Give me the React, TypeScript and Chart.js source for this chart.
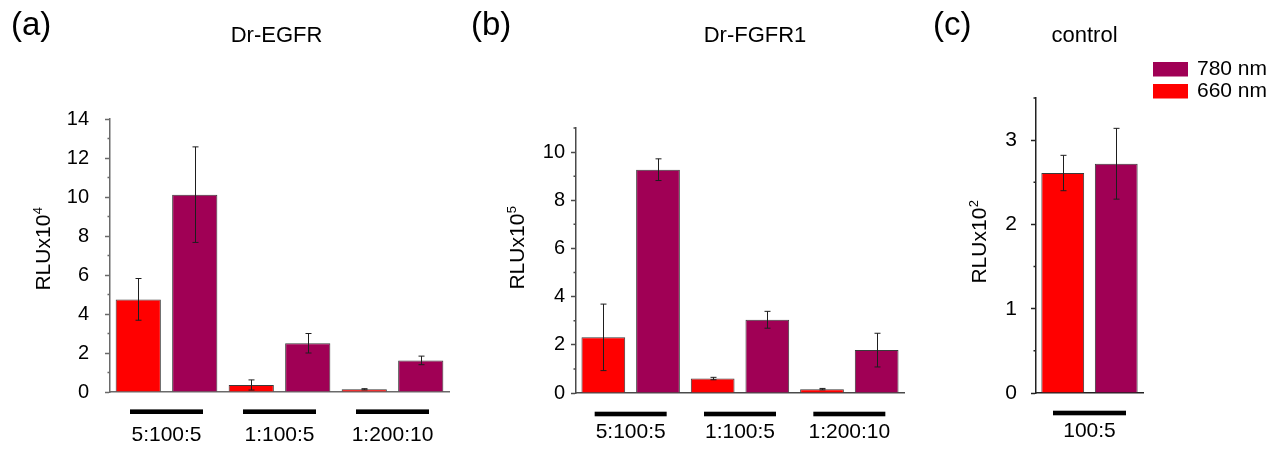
import React, { useEffect, useRef } from 'react';
import { Chart, registerables } from 'chart.js';

Chart.register(...registerables);

const FONT = '"Liberation Sans", Arial, Helvetica, sans-serif';
Chart.defaults.font.family = FONT;

const W = 1283;
const H = 451;

const RED = '#FF0000';
const PURPLE = '#A00055';
const BAR_EDGE = '#3a3a3a';
const ERR_COLOR = '#1e1e1e';

// ---------- data ----------
const seriesLabels = ['660 nm', '780 nm'];

const egfrCategories = ['5:100:5', '1:100:5', '1:200:10'];
const egfr660 = [4.75, 0.36, 0.14];
const egfr660Err = [1.07, 0.26, 0.03];
const egfr780 = [10.12, 2.5, 1.62];
const egfr780Err = [2.45, 0.5, 0.22];
const egfrTicks = [0, 2, 4, 6, 8, 10, 12, 14];
const egfrMinorTicks = [1, 3, 5, 7, 9, 11, 13];

const fgfrCategories = ['5:100:5', '1:100:5', '1:200:10'];
const fgfr660 = [2.31, 0.6, 0.16];
const fgfr660Err = [1.38, 0.05, 0.03];
const fgfr780 = [9.27, 3.04, 1.78];
const fgfr780Err = [0.45, 0.35, 0.7];
const fgfrTicks = [0, 2, 4, 6, 8, 10];
const fgfrMinorTicks = [1, 3, 5, 7, 9, 11];

const ctrlCategories = ['100:5'];
const ctrl660 = [2.61];
const ctrl660Err = [0.21];
const ctrl780 = [2.72];
const ctrl780Err = [0.42];
const ctrlTicks = [0, 1, 2, 3];
const ctrlMinorTicks = [0.5, 1.5, 2.5, 3.5];

// ---------- panel layout / style ----------
type PanelCfg = {
  categories: string[];
  v660: number[];
  e660: number[];
  v780: number[];
  e780: number[];
  max: number;
  ticks: number[];
  minor: number[];
  area: { left: number; top: number; right: number; bottom: number };
  letter: string;
  letterX: number;
  title: string;
  titleX: number;
  yExp: string;
  yTitleX: number;
  yTitleY: number;
  axisColor: string;
  tickFont: number;
  tickPad: number;
  labelPad: number;
  groupLineY: number;
  groupHalf: number;
  legend: boolean;
};

const panels: PanelCfg[] = [
  {
    categories: egfrCategories, v660: egfr660, e660: egfr660Err, v780: egfr780, e780: egfr780Err,
    max: 14, ticks: egfrTicks, minor: egfrMinorTicks,
    area: { left: 110, top: 119, right: 449, bottom: 392 },
    letter: '(a)', letterX: 11, title: 'Dr-EGFR', titleX: 276.5,
    yExp: '4', yTitleX: 50, yTitleY: 249,
    axisColor: '#6a6a6a', tickFont: 20, tickPad: 16, labelPad: 31,
    groupLineY: 411.7, groupHalf: 36.5, legend: false,
  },
  {
    categories: fgfrCategories, v660: fgfr660, e660: fgfr660Err, v780: fgfr780, e780: fgfr780Err,
    max: 11, ticks: fgfrTicks, minor: fgfrMinorTicks,
    area: { left: 576, top: 128, right: 904, bottom: 393 },
    letter: '(b)', letterX: 471, title: 'Dr-FGFR1', titleX: 755,
    yExp: '5', yTitleX: 524, yTitleY: 248,
    axisColor: '#4a4a4a', tickFont: 20, tickPad: 6, labelPad: 27,
    groupLineY: 414, groupHalf: 36, legend: false,
  },
  {
    categories: ctrlCategories, v660: ctrl660, e660: ctrl660Err, v780: ctrl780, e780: ctrl780Err,
    max: 3.5, ticks: ctrlTicks, minor: ctrlMinorTicks,
    area: { left: 1036, top: 98, right: 1143, bottom: 393 },
    letter: '(c)', letterX: 933, title: 'control', titleX: 1084.5,
    yExp: '2', yTitleX: 986, yTitleY: 242,
    axisColor: '#222222', tickFont: 21, tickPad: 14, labelPad: 26,
    groupLineY: 413, groupHalf: 36.5, legend: true,
  },
];

const decorPlugin = {
  id: 'panelDecor',
  afterDraw(chart: any, _args: any, opts: any) {
    const p: PanelCfg = opts.cfg;
    const ctx: CanvasRenderingContext2D = chart.ctx;
    const xs = chart.scales.x;
    const ys = chart.scales.y;
    const area = chart.chartArea;
    ctx.save();

    // error bars
    chart.data.datasets.forEach((ds: any, i: number) => {
      const meta = chart.getDatasetMeta(i);
      meta.data.forEach((bar: any, j: number) => {
        const v = ds.data[j];
        const e = ds.errors[j];
        const px = Math.round(bar.x) + 0.5;
        const yt = ys.getPixelForValue(v + e);
        const yb = ys.getPixelForValue(Math.max(0, v - e));
        ctx.strokeStyle = ERR_COLOR;
        ctx.lineWidth = 1;
        ctx.beginPath();
        ctx.moveTo(px, yt);
        ctx.lineTo(px, yb);
        ctx.moveTo(px - 3, yt);
        ctx.lineTo(px + 3, yt);
        ctx.moveTo(px - 3, yb);
        ctx.lineTo(px + 3, yb);
        ctx.stroke();
      });
    });

    // minor ticks
    ctx.strokeStyle = p.axisColor;
    ctx.lineWidth = 1.5;
    ctx.beginPath();
    p.minor.forEach((v) => {
      const py = ys.getPixelForValue(v);
      ctx.moveTo(area.left - 2.5, py);
      ctx.lineTo(area.left, py);
    });
    ctx.stroke();

    // group bars under categories
    ctx.fillStyle = '#000';
    p.categories.forEach((_c, j) => {
      const cx = xs.getPixelForValue(j);
      ctx.fillRect(cx - p.groupHalf, p.groupLineY - 2.3, p.groupHalf * 2, 4.6);
    });

    // panel letter and title
    ctx.fillStyle = '#000';
    ctx.textBaseline = 'alphabetic';
    ctx.font = `33px ${FONT}`;
    ctx.textAlign = 'left';
    ctx.fillText(p.letter, p.letterX, 35);
    ctx.font = `22px ${FONT}`;
    ctx.textAlign = 'center';
    ctx.fillText(p.title, p.titleX, 42);

    // y-axis title with superscript
    ctx.save();
    ctx.translate(p.yTitleX, p.yTitleY);
    ctx.rotate(-Math.PI / 2);
    ctx.textAlign = 'left';
    ctx.font = `21px ${FONT}`;
    const main = 'RLUx10';
    const w1 = ctx.measureText(main).width;
    ctx.font = `13px ${FONT}`;
    const w2 = ctx.measureText(p.yExp).width;
    const start = -(w1 + w2) / 2;
    ctx.font = `21px ${FONT}`;
    ctx.fillText(main, start, 0);
    ctx.font = `13px ${FONT}`;
    ctx.fillText(p.yExp, start + w1 + 0.5, -8);
    ctx.restore();

    // legend
    if (p.legend) {
      const items = [
        { label: chart.data.datasets[1].label, color: chart.data.datasets[1].backgroundColor, y: 62 },
        { label: chart.data.datasets[0].label, color: chart.data.datasets[0].backgroundColor, y: 84 },
      ];
      items.forEach((it) => {
        ctx.fillStyle = it.color;
        ctx.fillRect(1153, it.y, 35, 14.5);
        ctx.fillStyle = '#000';
        ctx.font = `21px ${FONT}`;
        ctx.textAlign = 'left';
        ctx.textBaseline = 'middle';
        ctx.fillText(it.label, 1197, it.y + 7.5);
      });
    }
    ctx.restore();
  },
};

function makeConfig(p: PanelCfg): any {
  return {
    type: 'bar',
    data: {
      labels: p.categories,
      datasets: [
        {
          label: seriesLabels[0], data: p.v660, errors: p.e660,
          backgroundColor: RED, borderColor: BAR_EDGE, borderWidth: 1,
          barPercentage: 0.8, categoryPercentage: 1,
        },
        {
          label: seriesLabels[1], data: p.v780, errors: p.e780,
          backgroundColor: PURPLE, borderColor: BAR_EDGE, borderWidth: 1,
          barPercentage: 0.8, categoryPercentage: 1,
        },
      ],
    },
    options: {
      responsive: false,
      animation: false,
      events: [],
      layout: { padding: { left: 0, top: p.area.top, right: W - p.area.right, bottom: 0 } },
      plugins: {
        legend: { display: false },
        tooltip: { enabled: false },
        title: { display: false },
        panelDecor: { cfg: p },
      },
      scales: {
        x: {
          type: 'category',
          offset: true,
          grid: { display: false, drawTicks: false, drawOnChartArea: false },
          border: { display: true, color: p.axisColor, width: 1.5 },
          ticks: { color: '#000', font: { size: 21, family: FONT }, padding: p.labelPad, maxRotation: 0, autoSkip: false },
          afterFit: (s: any) => {
            s.height = H - p.area.bottom;
            s.paddingLeft = 0;
            s.paddingRight = 0;
          },
        },
        y: {
          type: 'linear',
          min: 0,
          max: p.max,
          afterBuildTicks: (s: any) => {
            s.ticks = p.ticks.map((v) => ({ value: v }));
          },
          grid: { display: true, drawOnChartArea: false, drawTicks: true, tickLength: 5, tickColor: p.axisColor, tickWidth: 1.5 },
          border: { display: true, color: p.axisColor, width: 1.5 },
          ticks: { color: '#000', font: { size: p.tickFont, family: FONT }, padding: p.tickPad },
          afterFit: (s: any) => {
            s.width = p.area.left;
            s.paddingTop = 0;
            s.paddingBottom = 0;
          },
        },
      },
    },
    plugins: [decorPlugin],
  };
}

function Panel({ cfg }: { cfg: PanelCfg }) {
  const ref = useRef<HTMLCanvasElement>(null);
  useEffect(() => {
    if (!ref.current) return;
    const chart = new Chart(ref.current, makeConfig(cfg));
    return () => chart.destroy();
  }, [cfg]);
  return (
    <canvas
      ref={ref}
      width={W}
      height={H}
      style={{ position: 'absolute', left: 0, top: 0, width: W, height: H }}
    />
  );
}

export default function App() {
  return (
    <div style={{ position: 'absolute', left: 0, top: 0, width: W, height: H, background: '#fff', overflow: 'hidden' }}>
      {panels.map((p, i) => (
        <Panel key={i} cfg={p} />
      ))}
    </div>
  );
}
